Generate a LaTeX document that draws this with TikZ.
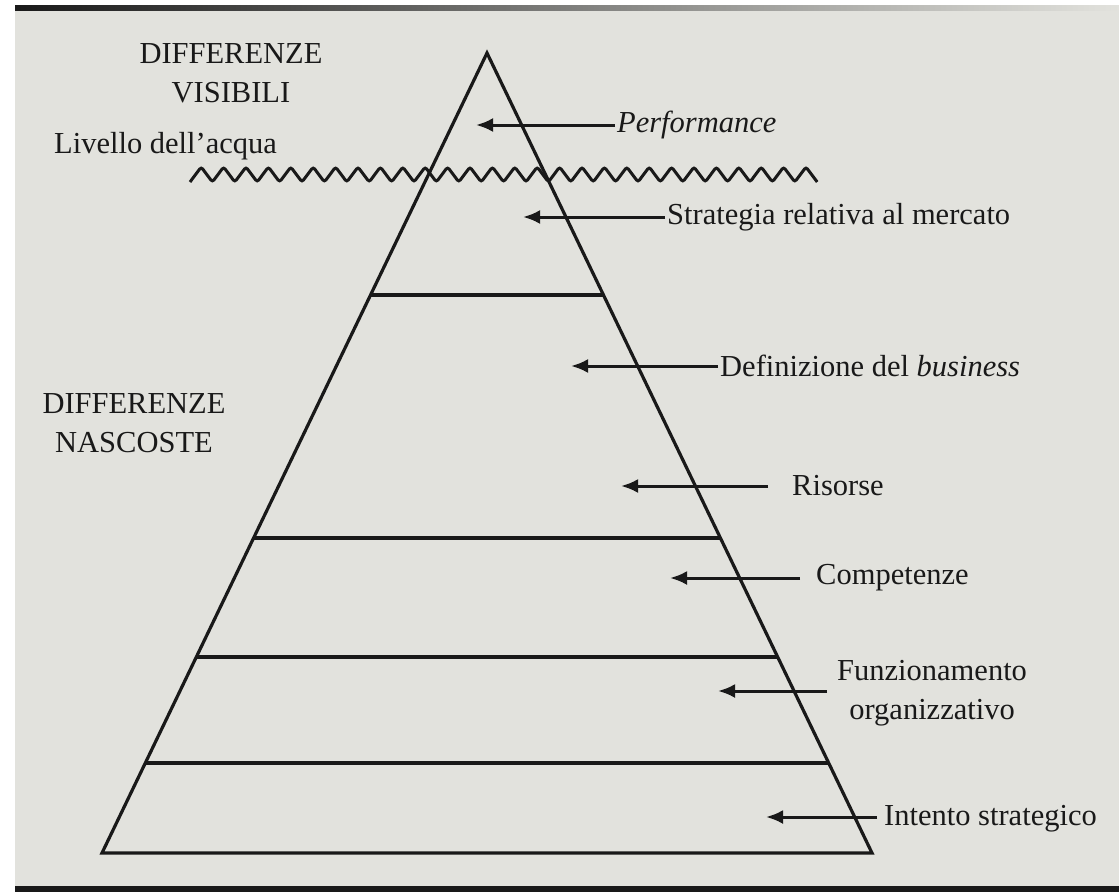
\documentclass[tikz,border=0pt]{standalone}
\usepackage{fontspec}
\setmainfont{Liberation Serif}
\usetikzlibrary{arrows.meta,calc}
\definecolor{paper}{RGB}{226,226,221}
\definecolor{ink}{RGB}{25,25,25}
\begin{document}
\begin{tikzpicture}[x=1pt,y=-1pt,
  ln/.style={draw=ink,line width=3.2pt},
  arr/.style={draw=ink,line width=3pt,-{Latex[length=17pt,width=14pt]}},
  lbl/.style={anchor=west,inner sep=2pt,text=ink,font=\fontsize{30.5}{39}\selectfont},
  head/.style={align=center,inner sep=0pt,text=ink,font=\fontsize{30.5}{39}\selectfont}]
\useasboundingbox (0,0) rectangle (1119,892);
% paper
\fill[white] (0,0) rectangle (1119,892);
\fill[paper] (15,5) rectangle (1119,892);
\shade[left color=black!90,right color=paper] (15,5) rectangle (1119,10);
\fill[ink] (15,886) rectangle (1119,892);
% pyramid
\coordinate (A) at (487,53);
\coordinate (B) at (102,853);
\coordinate (C) at (872,853);
\draw[ln,line join=miter] (A) -- (B) -- (C) -- cycle;
\foreach \t in {0.3025,0.60625,0.755,0.8875}
  \draw[ln] ($(A)!\t!(B)$) -- ($(A)!\t!(C)$);
% water line
\draw[draw=ink,line width=3pt,rounded corners=2.5pt] (190,182)
  \foreach \i in {1,...,28} { -- ++(11.2,-15) -- ++(11.2,15) };
% left texts
\node[head] (vis) at (231,73) {DIFFERENZE\\VISIBILI};
\node[lbl] (acqua) at (52,146) {Livello dell’acqua};
\node[head] (nasc) at (134,423) {DIFFERENZE\\NASCOSTE};
% labels and arrows
\coordinate (tperf) at (476,125);
\node[lbl] (perf) at (615,125) {\itshape Performance};
\draw[arr] (perf.west) -- (tperf);
\coordinate (tstrat) at (523,217);
\node[lbl] (strat) at (665,217) {Strategia relativa al mercato};
\draw[arr] (strat.west) -- (tstrat);
\coordinate (tdef) at (571,366);
\node[lbl] (def) at (718,366) {Definizione del \textit{business}};
\draw[arr] (def.west) -- (tdef);
\coordinate (tris) at (621,486);
\node[lbl,inner xsep=24pt] (ris) at (768,486) {Risorse};
\draw[arr] (ris.west) -- (tris);
\coordinate (tcomp) at (670,578);
\node[lbl,inner xsep=16pt] (comp) at (800,578) {Competenze};
\draw[arr] (comp.west) -- (tcomp);
\coordinate (tfunz) at (718,691);
\node[lbl,align=center,inner xsep=10pt] (funz) at (827,693) {Funzionamento\\organizzativo};
\draw[arr] (funz.west|-tfunz) -- (tfunz);
\coordinate (tint) at (766,817);
\node[lbl,inner xsep=7pt] (int) at (877,819) {Intento strategico};
\draw[arr] (int.west|-tint) -- (tint);
\end{tikzpicture}
\end{document}
